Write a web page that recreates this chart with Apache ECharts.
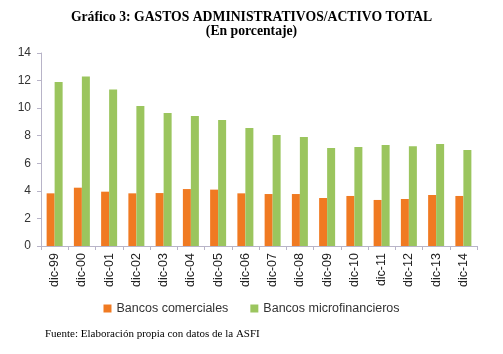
<!DOCTYPE html>
<html>
<head>
<meta charset="utf-8">
<script src="https://cdn.jsdelivr.net/npm/echarts@6/dist/echarts.min.js"></script>
<style>
  html, body { margin: 0; padding: 0; background: #fff; }
  #chart { width: 503px; height: 354px; }
</style>
</head>
<body>
<div id="chart"></div>
<script>
const categories = ["dic-99", "dic-00", "dic-01", "dic-02", "dic-03", "dic-04", "dic-05", "dic-06",
  "dic-07", "dic-08", "dic-09", "dic-10", "dic-11", "dic-12", "dic-13", "dic-14"];
const comerciales = [3.82, 4.23, 3.94, 3.82, 3.84, 4.13, 4.09, 3.82, 3.77, 3.77, 3.48, 3.63, 3.34, 3.41, 3.70, 3.63];
const microfinancieros = [11.9, 12.3, 11.36, 10.15, 9.64, 9.43, 9.14, 8.56, 8.05, 7.9, 7.1, 7.18, 7.32, 7.23, 7.4, 6.96];

const chart = echarts.init(document.getElementById("chart"));

const option = {
  animation: false,
  title: [
    {
      text: "Gráfico 3: GASTOS ADMINISTRATIVOS/ACTIVO TOTAL",
      subtext: "(En porcentaje)",
      left: "center",
      top: 5,
      itemGap: 0,
      textStyle: { fontFamily: "Liberation Serif", fontSize: 13.7, fontWeight: "bold", color: "#000" },
      subtextStyle: { fontFamily: "Liberation Serif", fontSize: 13.7, fontWeight: "bold", color: "#000" },
    },
    {
      text: "Fuente: Elaboración propia con datos de la ASFI",
      left: 40,
      top: 324,
      textStyle: { fontFamily: "Liberation Serif", fontSize: 11, fontWeight: "normal", color: "#000" },
    },
  ],
  legend: {
    bottom: 34,
    left: "center",
    itemWidth: 8,
    itemHeight: 8,
    itemGap: 22,
    icon: "rect",
    textStyle: { fontFamily: "Liberation Sans", fontSize: 12.5, color: "#333" },
    data: ["Bancos comerciales", "Bancos microfinancieros"],
  },
  grid: { left: 41, right: 26, top: 53, bottom: 108 },
  xAxis: {
    type: "category",
    data: categories,
    axisLine: { lineStyle: { color: "#b8b4c8" } },
    axisTick: { show: true, length: 4, lineStyle: { color: "#b8b4c8" } },
    axisLabel: { rotate: 90, fontFamily: "Liberation Sans", fontSize: 12.5, color: "#222", margin: 7 },
  },
  yAxis: {
    type: "value",
    min: 0,
    max: 14,
    interval: 2,
    splitLine: { show: false },
    axisLine: { show: true, lineStyle: { color: "#b8b4c8" } },
    axisTick: { show: true, length: 4, lineStyle: { color: "#b8b4c8" } },
    axisLabel: { fontFamily: "Liberation Sans", fontSize: 12, color: "#333", margin: 10 },
  },
  series: [
    {
      name: "Bancos comerciales",
      type: "bar",
      data: comerciales,
      barWidth: 8,
      barGap: "0%",
      itemStyle: { color: "#f07a22" },
    },
    {
      name: "Bancos microfinancieros",
      type: "bar",
      data: microfinancieros,
      barWidth: 8,
      barGap: "0%",
      itemStyle: { color: "#9bc55e" },
    },
  ],
};

chart.setOption(option);
</script>
</body>
</html>
